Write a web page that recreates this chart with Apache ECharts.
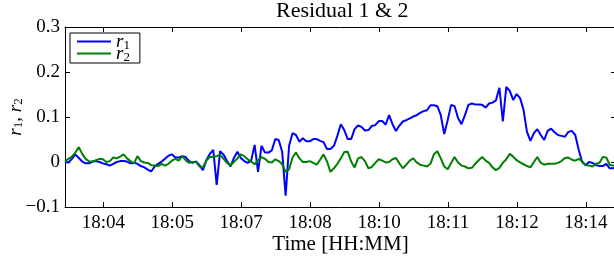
<!DOCTYPE html>
<html>
<head>
<meta charset="utf-8">
<script src="https://cdn.jsdelivr.net/npm/echarts@6/dist/echarts.min.js"></script>
<style>
html,body{margin:0;padding:0;background:#fff;}
#chart{width:614px;height:257px;}
</style>
</head>
<body>
<div id="chart"></div>
<script>
// time axis (minutes after 18:00)
const startMinute = 3.2225;
const stepMinute = 0.07;
const xMin = 3.2225;
const xMax = 14.41;
const xTickValues = [4.0, 5.4, 6.8, 8.2, 9.6, 11.0, 12.4, 13.8];
const xTickLabels = ['18:04', '18:05', '18:07', '18:08', '18:10', '18:11', '18:12', '18:14'];
const yTickValues = [-0.1, 0, 0.1, 0.2, 0.3];
const yTickLabels = ['\u22120.1', '0', '0.1', '0.2', '0.3'];
const seriesNames = ['r1', 'r2'];
const seriesSubs = ['1', '2'];

const r1 = [
0.000,-0.001,0.007,0.017,0.009,0.001,-0.003,-0.003,0.001,0.002,
0.000,-0.003,-0.005,-0.008,-0.004,0.000,0.002,0.002,0.001,-0.003,
-0.002,-0.004,-0.009,-0.012,-0.017,-0.021,-0.010,-0.004,0.001,0.007,
0.014,0.017,0.010,0.010,0.013,0.011,0.002,-0.002,0.001,-0.007,
-0.018,0.004,0.018,0.027,-0.051,0.024,0.016,0.002,-0.010,0.009,
0.023,0.009,0.002,-0.002,0.003,0.038,-0.022,0.036,0.021,0.021,
0.026,0.051,0.049,0.022,-0.075,0.036,0.064,0.060,0.045,0.053,
0.046,0.046,0.051,0.051,0.047,0.044,0.029,0.029,0.036,0.058,
0.084,0.071,0.051,0.051,0.073,0.081,0.078,0.070,0.071,0.080,
0.082,0.091,0.091,0.083,0.104,0.084,0.069,0.081,0.090,0.093,
0.097,0.101,0.104,0.109,0.113,0.115,0.126,0.126,0.124,0.104,
0.062,0.093,0.127,0.124,0.098,0.084,0.104,0.127,0.130,0.128,
0.128,0.127,0.121,0.130,0.132,0.137,0.165,0.090,0.167,0.158,
0.138,0.151,0.142,0.116,0.067,0.047,0.064,0.073,0.060,0.049,
0.069,0.074,0.066,0.060,0.058,0.056,0.067,0.069,0.060,0.027,
0.000,-0.007,0.000,-0.002,-0.007,-0.009,-0.009,-0.004,-0.014,-0.014,
-0.012
];
const r2 = [
0.002,0.007,0.012,0.021,0.033,0.018,0.007,0.001,0.001,0.004,
0.007,0.006,0.000,0.002,0.010,0.008,0.012,0.017,0.008,0.002,
-0.003,0.013,0.002,-0.001,-0.002,-0.007,-0.008,-0.009,-0.004,-0.008,
-0.004,0.003,0.007,0.003,0.013,0.004,-0.002,0.000,0.000,-0.010,
-0.012,0.003,0.011,0.011,0.013,0.016,0.007,-0.002,-0.007,0.000,
0.008,0.017,0.013,0.006,0.001,-0.005,0.004,0.011,0.007,0.000,
-0.001,0.006,0.002,-0.005,-0.022,-0.016,0.010,0.021,0.008,0.000,
0.000,0.002,-0.002,-0.006,0.005,0.017,0.001,-0.022,-0.014,-0.004,
0.008,0.022,0.023,0.001,-0.012,0.008,0.011,0.002,-0.014,-0.011,
-0.002,0.006,0.003,-0.001,0.000,0.006,0.009,-0.003,-0.014,-0.006,
0.003,0.008,-0.001,-0.006,-0.008,-0.010,-0.004,0.017,0.024,0.008,
-0.010,-0.016,-0.002,0.011,-0.001,-0.008,-0.010,-0.014,-0.013,-0.004,
0.004,0.011,0.003,-0.002,-0.012,-0.018,-0.013,-0.002,0.006,0.018,
0.012,0.004,-0.001,-0.005,-0.009,-0.012,0.000,0.011,-0.002,-0.006,
-0.004,-0.004,-0.004,-0.002,0.002,0.009,0.010,0.005,0.003,0.007,
0.002,-0.007,-0.008,-0.010,-0.004,-0.002,0.011,0.010,-0.006,-0.008,
-0.007
];

const FONT = '"Liberation Serif", "Times New Roman", serif';
function pairs(vals) {
  return vals.map((v, i) => [startMinute + stepMinute * i, v]);
}
function xFmt(v) {
  for (let i = 0; i < xTickValues.length; i++) if (Math.abs(v - xTickValues[i]) < 1e-6) return xTickLabels[i];
  return '';
}
function yFmt(v) {
  for (let i = 0; i < yTickValues.length; i++) if (Math.abs(v - yTickValues[i]) < 1e-9) return yTickLabels[i];
  return '';
}
const richText = {
  i: { fontFamily: FONT, fontStyle: 'italic', fontSize: 19, lineHeight: 20, color: '#000', verticalAlign: 'bottom' },
  s: { fontFamily: FONT, fontSize: 13, lineHeight: 13, color: '#000', verticalAlign: 'bottom' },
  n: { fontFamily: FONT, fontSize: 19, lineHeight: 20, color: '#000', verticalAlign: 'bottom' }
};
const axisLineStyle = { color: '#000', width: 1 };

const chart = echarts.init(document.getElementById('chart'), null, { renderer: 'canvas' });
chart.setOption({
  animation: false,
  backgroundColor: '#fff',
  title: {
    text: 'Residual 1 & 2',
    left: 276, top: 0, padding: 0,
    textStyle: { fontFamily: FONT, fontSize: 22, fontWeight: 'normal', color: '#000' }
  },
  grid: { left: 65, top: 27, right: -2, bottom: 50, containLabel: false, outerBoundsMode: 'none' },
  legend: {
    orient: 'vertical',
    left: 70, top: 33,
    padding: [-2, 10, -1, 7],
    itemGap: -9,
    itemWidth: 34,
    itemHeight: 2,
    icon: 'rect',
    borderColor: '#000',
    borderWidth: 1,
    borderRadius: 0,
    backgroundColor: '#fff',
    data: seriesNames,
    formatter: function (name) {
      const i = seriesNames.indexOf(name);
      return '{i|r}{s|' + seriesSubs[i] + '}';
    },
    textStyle: { fontFamily: FONT, fontSize: 19, lineHeight: 12, color: '#000', rich: {
      i: { fontFamily: FONT, fontStyle: 'italic', fontSize: 19, lineHeight: 12, color: '#000' },
      s: { fontFamily: FONT, fontSize: 13, lineHeight: 4, color: '#000', padding: [8, 0, 0, 0] }
    } }
  },
  xAxis: [{
    type: 'value', min: xMin, max: xMax, position: 'bottom',
    axisLine: { show: true, onZero: false, lineStyle: axisLineStyle },
    axisTick: { show: true, inside: true, length: 5, customValues: xTickValues, lineStyle: axisLineStyle },
    axisLabel: { show: true, customValues: xTickValues, formatter: xFmt, fontFamily: FONT, fontSize: 19, color: '#000', margin: 7 },
    splitLine: { show: false },
    name: 'Time [HH:MM]', nameLocation: 'middle', nameGap: 27, nameMoveOverlap: false,
    nameTextStyle: { fontFamily: FONT, fontSize: 21, color: '#000' }
  }, {
    type: 'value', min: xMin, max: xMax, position: 'top',
    axisLine: { show: true, onZero: false, lineStyle: axisLineStyle },
    axisTick: { show: true, inside: true, length: 5, customValues: xTickValues, lineStyle: axisLineStyle },
    axisLabel: { show: false },
    splitLine: { show: false }
  }],
  yAxis: [{
    type: 'value', min: -0.1, max: 0.3, interval: 0.1, position: 'left',
    axisLine: { show: true, onZero: false, lineStyle: axisLineStyle },
    axisTick: { show: true, inside: true, length: 5, lineStyle: axisLineStyle },
    axisLabel: { show: true, formatter: yFmt, fontFamily: FONT, fontSize: 19, color: '#000', margin: 5, padding: [4, 0, 0, 0] },
    splitLine: { show: false },
    name: '{i|r}{s|1}{n|, }{i|r}{s|2}', nameLocation: 'middle', nameGap: 40, nameRotate: 90, nameMoveOverlap: false,
    nameTextStyle: { rich: richText }
  }, {
    type: 'value', min: -0.1, max: 0.3, interval: 0.1, position: 'right',
    axisLine: { show: true, onZero: false, lineStyle: axisLineStyle },
    axisTick: { show: true, inside: true, length: 5, lineStyle: axisLineStyle },
    axisLabel: { show: false },
    splitLine: { show: false }
  }],
  series: [{
    name: seriesNames[0], type: 'line', data: pairs(r1), symbol: 'none', showSymbol: false,
    lineStyle: { color: '#0000ff', width: 2 }, itemStyle: { color: '#0000ff' }, clip: true
  }, {
    name: seriesNames[1], type: 'line', data: pairs(r2), symbol: 'none', showSymbol: false,
    lineStyle: { color: '#008000', width: 2 }, itemStyle: { color: '#008000' }, clip: true
  }]
});
</script>
</body>
</html>
